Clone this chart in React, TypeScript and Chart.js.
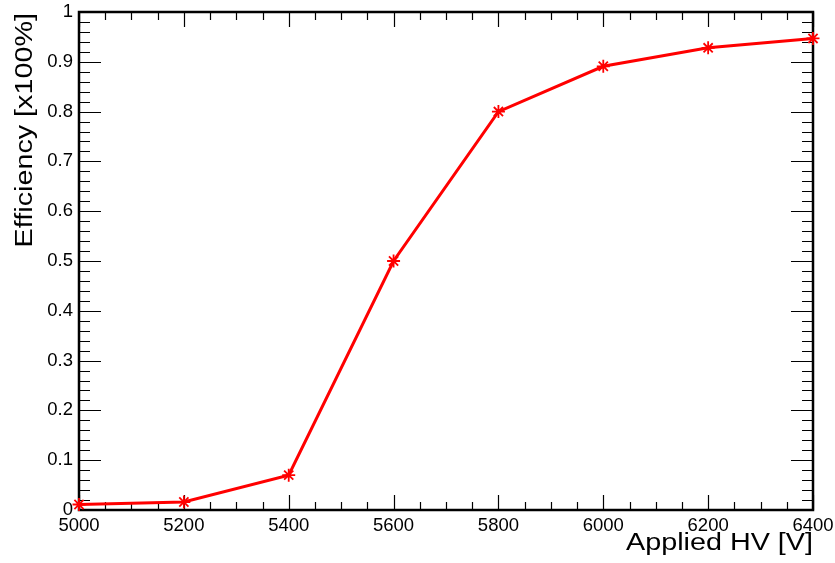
import React, { useEffect, useRef } from "react";
import { Chart, registerables } from "chart.js";

Chart.register(...registerables);

const hvValues = [5000, 5200, 5400, 5600, 5800, 6000, 6200, 6400];
const efficiency = [0.011, 0.016, 0.07, 0.5, 0.8, 0.891, 0.928, 0.947];
const xTickValues = [5000, 5200, 5400, 5600, 5800, 6000, 6200, 6400];
const yTickValues = [0, 0.1, 0.2, 0.3, 0.4, 0.5, 0.6, 0.7, 0.8, 0.9, 1];
const xTitle = "Applied HV [V]";
const yTitle = "Efficiency [x100%]";

const FONT = "'Liberation Sans', Arial, Helvetica, sans-serif";

const frameTicksPlugin = {
  id: "frameTicks",
  beforeDatasetsDraw(chart: any) {
    const { ctx, chartArea: a, scales } = chart;
    const xs = scales.x;
    const ys = scales.y;
    ctx.save();
    ctx.strokeStyle = "#000";
    ctx.lineWidth = 1.2;
    ctx.beginPath();
    for (let v = 5000; v <= 6400 + 1e-6; v += 50) {
      const major = Math.abs((v - 5000) % 200) < 1e-6;
      const len = major ? 15 : 8;
      const px = Math.round(xs.getPixelForValue(v)) + 0.5;
      ctx.moveTo(px, a.bottom);
      ctx.lineTo(px, a.bottom - len);
      ctx.moveTo(px, a.top);
      ctx.lineTo(px, a.top + len);
    }
    for (let i = 0; i <= 50; i++) {
      const v = i * 0.02;
      const major = i % 5 === 0;
      const len = major ? 22 : 11;
      const py = Math.round(ys.getPixelForValue(v)) + 0.5;
      ctx.moveTo(a.left, py);
      ctx.lineTo(a.left + len, py);
      ctx.moveTo(a.right, py);
      ctx.lineTo(a.right - len, py);
    }
    ctx.stroke();
    ctx.lineWidth = 2.5;
    ctx.strokeRect(a.left, a.top, a.right - a.left, a.bottom - a.top);
    ctx.restore();
  },
  afterDraw(chart: any) {
    const { ctx, chartArea: a } = chart;
    ctx.save();
    ctx.fillStyle = "#000";
    ctx.font = `23px ${FONT}`;
    ctx.textAlign = "right";
    ctx.textBaseline = "alphabetic";
    ctx.save();
    ctx.translate(a.right, 550);
    ctx.scale(1.25, 1);
    ctx.fillText(xTitle, 0, 0);
    ctx.restore();
    ctx.save();
    ctx.translate(32, 13);
    ctx.rotate(-Math.PI / 2);
    ctx.scale(1.25, 1);
    ctx.fillText(yTitle, 0, 0);
    ctx.restore();
    ctx.restore();
  },
};

export default function App() {
  const ref = useRef<HTMLCanvasElement>(null);
  useEffect(() => {
    if (!ref.current) return;
    const chart = new Chart(ref.current, {
      type: "line",
      data: {
        datasets: [
          {
            data: hvValues.map((x, i) => ({ x, y: efficiency[i] })),
            borderColor: "#ff0000",
            backgroundColor: "#ff0000",
            borderWidth: 3,
            pointStyle: "star",
            pointRadius: 6.5,
            pointBorderWidth: 1.8,
            pointBorderColor: "#ff0000",
            tension: 0,
            clip: false as any,
          },
        ],
      },
      options: {
        animation: false,
        responsive: false,
        layout: { padding: { top: 12, right: 22, left: 0, bottom: 0 } },
        plugins: { legend: { display: false }, tooltip: { enabled: false } },
        scales: {
          x: {
            type: "linear",
            min: 5000,
            max: 6400,
            afterBuildTicks: (s: any) => {
              s.ticks = xTickValues.map((v) => ({ value: v }));
            },
            afterFit: (s: any) => {
              s.height = 53;
              s.paddingLeft = 0;
              s.paddingRight = 0;
              s.paddingTop = 0;
              s.paddingBottom = 0;
            },
            grid: { display: false, drawTicks: false },
            border: { display: false },
            ticks: {
              color: "#000",
              font: { family: FONT, size: 18.5 },
              padding: 5,
              maxRotation: 0,
              autoSkip: false,
              callback: (v: any) => String(v),
            },
          },
          y: {
            type: "linear",
            min: 0,
            max: 1,
            afterBuildTicks: (s: any) => {
              s.ticks = yTickValues.map((v) => ({ value: v }));
            },
            afterFit: (s: any) => {
              s.width = 79;
              s.paddingLeft = 0;
              s.paddingRight = 0;
              s.paddingTop = 0;
              s.paddingBottom = 0;
            },
            grid: { display: false, drawTicks: false },
            border: { display: false },
            ticks: {
              color: "#000",
              font: { family: FONT, size: 18.5 },
              padding: 6,
              autoSkip: false,
              callback: (v: any) => String(Number(Number(v).toFixed(1))),
            },
          },
        },
      },
      plugins: [frameTicksPlugin],
    });
    return () => chart.destroy();
  }, []);
  return (
    <div style={{ position: "absolute", left: 0, top: 0, width: 835, height: 563, background: "#fff" }}>
      <canvas ref={ref} width={835} height={563} />
    </div>
  );
}
